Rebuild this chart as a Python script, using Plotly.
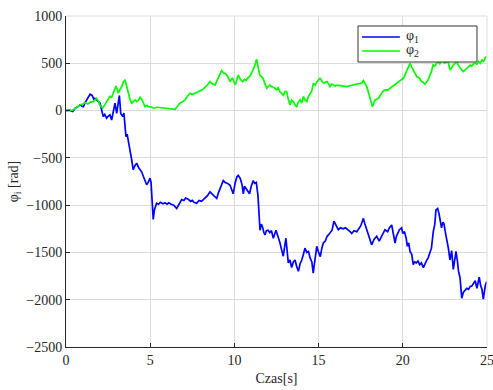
import plotly.graph_objects as go

# Joint angles phi_1 and phi_2 over time
t1 = [0.0, 0.2, 0.4, 0.55, 0.7, 0.83, 0.95, 1.03, 1.15, 1.3, 1.43, 1.55, 1.65, 1.72, 1.85, 2.02, 2.1, 2.21,
      2.3, 2.41, 2.5, 2.61, 2.71, 2.8, 2.91, 3.01, 3.1, 3.17, 3.25, 3.37, 3.44, 3.5, 3.56, 3.63, 3.7, 3.8,
      3.9, 3.99, 4.1, 4.2, 4.3, 4.39, 4.5, 4.59, 4.7, 4.79, 4.88, 4.99, 5.05, 5.12, 5.18, 5.25, 5.38, 5.5,
      5.6, 5.75, 5.88, 6.0, 6.1, 6.25, 6.4, 6.57, 6.7, 6.87, 7.0, 7.1, 7.26, 7.4, 7.5, 7.6, 7.76, 7.9, 8.05,
      8.25, 8.4, 8.55, 8.7, 8.8, 8.95, 9.05, 9.2, 9.34, 9.45, 9.6, 9.74, 9.85, 9.93, 10.05, 10.15, 10.23,
      10.35, 10.45, 10.53, 10.6, 10.7, 10.8, 10.9, 11.0, 11.12, 11.2, 11.3, 11.4, 11.47, 11.52, 11.6, 11.67,
      11.75, 11.82, 11.9, 12.0, 12.1, 12.2, 12.31, 12.4, 12.47, 12.55, 12.65, 12.71, 12.8, 12.9, 13.0, 13.06,
      13.13, 13.2, 13.3, 13.4, 13.5, 13.6, 13.7, 13.8, 13.9, 14.0, 14.1, 14.19, 14.3, 14.4, 14.5, 14.6, 14.68,
      14.78, 14.89, 15.0, 15.1, 15.2, 15.28, 15.4, 15.5, 15.58, 15.7, 15.8, 15.91, 16.0, 16.1, 16.17, 16.3,
      16.45, 16.6, 16.76, 16.87, 16.97, 17.1, 17.27, 17.4, 17.5, 17.6, 17.66, 17.75, 17.86, 17.95, 18.05,
      18.15, 18.3, 18.45, 18.6, 18.75, 18.94, 19.1, 19.2, 19.34, 19.45, 19.54, 19.62, 19.7, 19.8, 19.93,
      20.0, 20.1, 20.2, 20.27, 20.35, 20.43, 20.53, 20.62, 20.7, 20.8, 20.9, 21.0, 21.1, 21.22, 21.3, 21.4,
      21.5, 21.62, 21.7, 21.81, 21.9, 21.97, 22.07, 22.15, 22.21, 22.3, 22.38, 22.45, 22.52, 22.6, 22.7,
      22.8, 22.9, 23.0, 23.08, 23.16, 23.25, 23.3, 23.4, 23.45, 23.5, 23.6, 23.7, 23.8, 23.9, 24.0, 24.1,
      24.2, 24.3, 24.4, 24.47, 24.54, 24.62, 24.7, 24.78, 24.85, 24.9, 24.98, 25.0]
phi1 = [0, 5, -10, 25, 40, 60, 45, 40, 90, 140, 173, 160, 120, 130, 110, 78, 20, -63,
        -40, -80, -60, -45, -100, -20, 78, -30, 60, 160, -30, -63, -27, -150, -275, -250, -345, -420,
        -520, -625, -580, -556, -600, -625, -650, -695, -740, -784, -760, -715, -760, -1000, -1150, -1050, -980, -990,
        -970, -985, -975, -990, -975, -990, -1000, -1035, -990, -940, -950, -925, -938, -960, -950, -970, -980, -950, -960,
        -930, -900, -860, -890, -910, -930, -870, -790, -740, -760, -770, -790, -840, -880, -760, -700, -685,
        -720, -780, -880, -800, -830, -860, -880, -800, -740, -770, -760, -900, -1090, -1265, -1200, -1230,
        -1290, -1315, -1270, -1265, -1290, -1270, -1350, -1300, -1265, -1310, -1360, -1400, -1470, -1540, -1420, -1350,
        -1480, -1610, -1580, -1660, -1600, -1580, -1650, -1700, -1620, -1580, -1520, -1455, -1500, -1490, -1560, -1600, -1720,
        -1560, -1435, -1500, -1545, -1450, -1400, -1380, -1330, -1315, -1280, -1265, -1170, -1200, -1230, -1260, -1240,
        -1250, -1240, -1260, -1280, -1300, -1270, -1280, -1250, -1220, -1170, -1140, -1200, -1260, -1300, -1350,
        -1420, -1360, -1330, -1380, -1320, -1260, -1280, -1240, -1210, -1300, -1400, -1330, -1290, -1260, -1240,
        -1300, -1280, -1350, -1435, -1400, -1490, -1520, -1630, -1600, -1610, -1590, -1630, -1610, -1660, -1620, -1590,
        -1560, -1490, -1455, -1280, -1200, -1050, -1035, -1090, -1155, -1240, -1180, -1200, -1280, -1350, -1450,
        -1580, -1480, -1680, -1550, -1490, -1600, -1690, -1770, -1880, -1985, -1920, -1900, -1880, -1890, -1860, -1855,
        -1830, -1800, -1880, -1830, -1760, -1850, -1890, -1995, -1900, -1850, -1810, -1820]

t2 = [0.0, 0.2, 0.4, 0.6, 0.83, 1.0, 1.13, 1.3, 1.45, 1.62, 1.82, 1.92, 2.0, 2.1, 2.18, 2.3, 2.42, 2.52,
      2.61, 2.71, 2.81, 2.9, 2.97, 3.05, 3.1, 3.2, 3.3, 3.4, 3.5, 3.6, 3.7, 3.8, 3.9, 4.0, 4.1, 4.2, 4.3,
      4.4, 4.49, 4.6, 4.69, 4.8, 4.9, 5.05, 5.2, 5.4, 5.6, 5.8, 6.0, 6.2, 6.35, 6.47, 6.6, 6.75, 6.9, 7.07,
      7.2, 7.36, 7.5, 7.66, 7.8, 7.95, 8.1, 8.25, 8.4, 8.55, 8.7, 8.85, 9.0, 9.1, 9.24, 9.35, 9.5, 9.6,
      9.74, 9.82, 9.9, 10.05, 10.15, 10.23, 10.35, 10.5, 10.6, 10.7, 10.8, 10.9, 11.0, 11.12, 11.2, 11.32,
      11.4, 11.5, 11.6, 11.7, 11.8, 11.92, 12.0, 12.11, 12.2, 12.3, 12.4, 12.5, 12.6, 12.7, 12.8, 12.9,
      13.0, 13.1, 13.2, 13.3, 13.4, 13.5, 13.6, 13.7, 13.8, 13.9, 14.0, 14.1, 14.2, 14.3, 14.4, 14.5, 14.6,
      14.69, 14.8, 14.9, 15.0, 15.08, 15.2, 15.3, 15.4, 15.5, 15.6, 15.68, 15.78, 15.88, 16.0, 16.1, 16.3,
      16.5, 16.7, 16.9, 17.1, 17.3, 17.46, 17.55, 17.66, 17.76, 17.86, 17.95, 18.05, 18.12, 18.19, 18.27,
      18.35, 18.45, 18.55, 18.7, 18.84, 19.0, 19.1, 19.24, 19.4, 19.5, 19.64, 19.8, 19.9, 20.03, 20.13,
      20.23, 20.33, 20.43, 20.53, 20.63, 20.73, 20.83, 20.92, 21.0, 21.1, 21.2, 21.32, 21.4, 21.5, 21.6,
      21.7, 21.8, 21.9, 22.0, 22.1, 22.2, 22.3, 22.4, 22.5, 22.6, 22.7, 22.8, 22.9, 23.0, 23.1, 23.2, 23.3,
      23.4, 23.5, 23.6, 23.7, 23.8, 23.9, 24.0, 24.1, 24.2, 24.3, 24.4, 24.5, 24.6, 24.7, 24.8, 24.9, 24.98]
phi2 = [0, 0, 5, 30, 60, 70, 85, 70, 90, 95, 130, 100, 60, 40, 25, 60, 95, 120,
        150, 140, 185, 230, 260, 220, 185, 220, 250, 300, 325, 260, 185, 120, 78, 100, 113, 95, 110,
        140, 120, 80, 42, 55, 42, 40, 25, 35, 30, 30, 25, 20, 15, 14, 40, 77, 90, 113,
        150, 183, 170, 185, 200, 211, 220, 246, 270, 306, 280, 271, 330, 380, 422, 400, 387, 360,
        306, 330, 341, 271, 330, 377, 330, 306, 330, 320, 345, 359, 390, 430, 470, 542,
        470, 377, 360, 341, 290, 236, 250, 271, 253, 250, 236, 220, 240, 200, 183, 160,
        200, 200, 120, 60, 110, 95, 60, 42, 90, 113, 80, 148, 110, 95, 150, 183, 210,
        289, 270, 306, 320, 341, 310, 289, 300, 306, 280, 253, 280, 271, 260, 270, 265,
        260, 253, 265, 271, 275, 280, 290, 317, 290, 253, 200, 148, 90, 42, 90,
        113, 120, 130, 170, 208, 220, 215, 236, 260, 270, 289, 310, 325, 341, 380,
        412, 460, 500, 460, 430, 390, 359, 350, 341, 310, 300, 278, 300, 324, 370,
        412, 482, 470, 500, 520, 490, 535, 520, 500, 520, 510, 430, 450, 482, 500, 517, 480,
        447, 430, 412, 430, 447, 470, 482, 470, 495, 500, 490, 517, 500, 535, 520, 560, 570]

x_ticks = [0, 5, 10, 15, 20, 25]
y_ticks = [1000, 500, 0, -500, -1000, -1500, -2000, -2500]
series_names = ["φ<sub>1</sub>", "φ<sub>2</sub>"]
series_colors = ["#0000ff", "#00ff00"]

serif = "Liberation Serif"
axis_col = "#262626"
grid_col = "#dcdcdc"
tick_font = dict(family=serif, size=14, color=axis_col)

fig = go.Figure()
fig.add_trace(go.Scatter(x=t1, y=phi1, mode="lines", name=series_names[0],
                         line=dict(color=series_colors[0], width=1.7)))
fig.add_trace(go.Scatter(x=t2, y=phi2, mode="lines", name=series_names[1],
                         line=dict(color=series_colors[1], width=1.7)))

fig.update_layout(
    width=493, height=390,
    margin=dict(l=66, r=6, t=16, b=43, autoexpand=False),
    paper_bgcolor="white", plot_bgcolor="white",
    font=dict(family=serif, size=14, color=axis_col),
    showlegend=False,
    xaxis=dict(range=[0, 25], tickvals=x_ticks, showgrid=True, gridcolor=grid_col,
               showline=True, linecolor=axis_col, linewidth=1, mirror=False,
               ticks="inside", ticklen=4, tickcolor=axis_col, zeroline=False,
               ticklabeloverflow="allow", automargin=False, tickfont=tick_font,
               title=dict(text="Czas[s]", standoff=6, font=tick_font)),
    yaxis=dict(range=[-2500, 1000], tickvals=y_ticks, showgrid=True, gridcolor=grid_col,
               showline=True, linecolor=axis_col, linewidth=1, mirror=False,
               ticks="inside", ticklen=4, tickcolor=axis_col, zeroline=False,
               ticklabeloverflow="allow", automargin=False, tickfont=tick_font,
               title=dict(text="φ<sub>i</sub> [rad]", standoff=4, font=tick_font)),
)

# light frame lines on the top and right edges
fig.add_shape(type="line", xref="paper", yref="paper", x0=1, x1=1, y0=0, y1=1,
              line=dict(color=grid_col, width=1))
fig.add_shape(type="line", xref="paper", yref="paper", x0=0, x1=1, y0=1, y1=1,
              line=dict(color=grid_col, width=1))

# legend box in the upper right corner
lx0, lx1, ly0, ly1 = 0.6936, 0.9762, 0.861, 0.9698
fig.add_shape(type="rect", xref="paper", yref="paper", x0=lx0, x1=lx1, y0=ly0, y1=ly1,
              fillcolor="white", line=dict(color="#333333", width=1), layer="above")
for i, (name, col) in enumerate(zip(series_names, series_colors)):
    yy = 0.9366 - i * 0.0423
    fig.add_shape(type="line", xref="paper", yref="paper", x0=0.703, x1=0.793, y0=yy, y1=yy,
                  line=dict(color=col, width=1.5), layer="above")
    fig.add_annotation(xref="paper", yref="paper", x=0.803, y=yy, text=name, showarrow=False,
                       xanchor="left", yanchor="middle", font=dict(family=serif, size=14, color=axis_col))

fig.write_html("out.html")
